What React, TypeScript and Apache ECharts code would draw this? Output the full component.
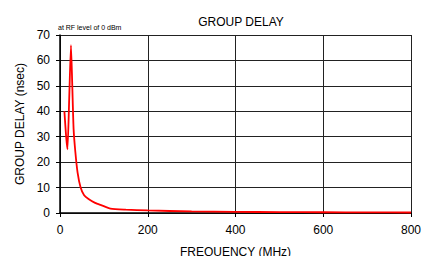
import React, { useEffect, useRef } from "react";
import * as echarts from "echarts";

const freqMHz = [10, 14, 17, 21, 25, 28, 31, 35, 40, 47, 55, 65, 80, 95, 115, 150, 200, 300, 400, 500, 600, 700, 800];
const delayNs = [40, 30, 25, 45, 66, 50, 33, 24, 16, 10, 7, 5.5, 4, 3, 1.7, 1.3, 1, 0.6, 0.45, 0.35, 0.3, 0.25, 0.2];
const xTicks = [0, 200, 400, 600, 800];
const yTicks = [0, 10, 20, 30, 40, 50, 60, 70];

export default function App() {
  const ref = useRef<HTMLDivElement>(null);
  useEffect(() => {
    const chart = echarts.init(ref.current!, undefined, { renderer: "svg" });
    const font = "Liberation Sans, Arial, sans-serif";
    chart.setOption({
      animation: false,
      title: {
        text: "GROUP DELAY",
        left: 236,
        top: 11,
        textAlign: "center",
        textStyle: { fontFamily: font, fontSize: 12, fontWeight: "normal", color: "#000" },
      },
      graphic: [
        {
          type: "text",
          left: 58,
          top: 24,
          style: { text: "at RF level of 0 dBm", fontFamily: font, fontSize: 7, fill: "#000" },
        },
      ],
      grid: { left: 60, right: 21, top: 35, bottom: 43, outerBoundsMode: "none", containLabel: false },
      xAxis: {
        type: "value",
        min: xTicks[0],
        max: xTicks[xTicks.length - 1],
        interval: 200,
        name: "FREQUENCY (MHz)",
        nameLocation: "middle",
        nameGap: 33,
        nameTextStyle: { fontFamily: font, fontSize: 12, color: "#000" },
        axisLine: { show: true, lineStyle: { color: "#000", width: 1.5 } },
        axisTick: { show: true, length: 4, lineStyle: { color: "#000" } },
        axisLabel: { fontFamily: font, fontSize: 12, color: "#000", margin: 11 },
        splitLine: { show: true, lineStyle: { color: "#222", width: 1 } },
      },
      yAxis: {
        type: "value",
        min: yTicks[0],
        max: yTicks[yTicks.length - 1],
        interval: 10,
        name: "GROUP DELAY (nsec)",
        nameLocation: "middle",
        nameGap: 29,
        nameTextStyle: { fontFamily: font, fontSize: 12, color: "#000" },
        axisLine: { show: true, lineStyle: { color: "#000", width: 1.5 } },
        axisTick: { show: true, length: 4, lineStyle: { color: "#000" } },
        axisLabel: { fontFamily: font, fontSize: 12, color: "#000", margin: 10 },
        splitLine: { show: true, lineStyle: { color: "#222", width: 1 } },
      },
      series: [
        {
          type: "line",
          data: freqMHz.map((f, i) => [f, delayNs[i]]),
          showSymbol: false,
          smooth: 0.2,
          lineStyle: { color: "#ff0000", width: 1.8 },
        },
      ],
    });
    return () => chart.dispose();
  }, []);
  return <div ref={ref} style={{ width: 432, height: 256, position: "absolute", left: 0, top: 0, background: "#fff" }} />;
}
